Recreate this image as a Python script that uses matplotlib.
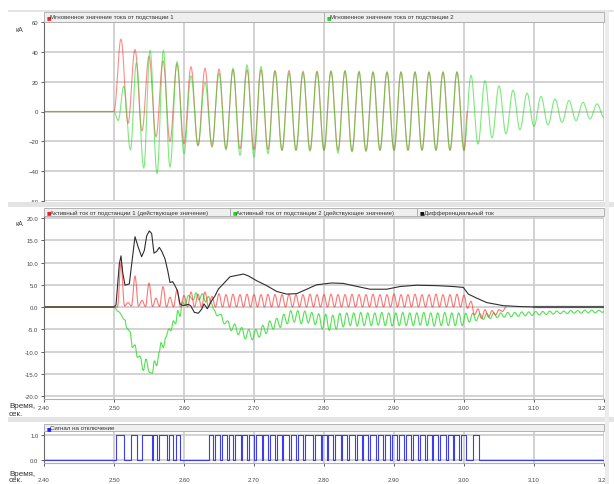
import numpy as np
import matplotlib.pyplot as plt
from matplotlib.patches import Rectangle

plt.rcParams['font.family'] = ['Liberation Sans', 'DejaVu Sans']

# --- мгновенные токи, экстремумы полуволн (кА) ---
# подстанция 1: максимумы 2.51..2.99, минимумы 2.52..3.00
i1_peaks = [48.5, 41.5, 37.0, 34.0, 32.0, 30.0, 29.0, 28.5, 28.0, 28.0, 28.0, 27.5, 27.5,
            27.0, 27.0, 27.0, 27.0, 26.5, 26.5, 26.5, 26.5, 26.5, 26.5, 26.5, 26.5]
i1_troughs = [-8.0, -13.0, -17.0, -20.0, -21.7, -23.0, -24.0, -25.0, -25.0, -25.5, -25.5, -26.0, -26.0,
              -26.0, -26.0, -26.0, -26.5, -26.5, -26.0, -26.0, -26.0, -26.0, -26.0, -26.0, -26.0]

# подстанция 2: первые полуволны сдвинуты по фазе
i2_t_start = [2.40, 2.50, 2.506, 2.514, 2.5235, 2.532, 2.5425, 2.5515, 2.5615, 2.5705]
i2_v_start = [0.0, 0.0, -6.0, 17.0, -25.7, 32.8, -37.9, 41.0, -41.7, 41.0]
# далее экстремумы через каждые 0.01 с, начиная с 2.58
i2_v_rest = [-37.2, 33.4, -28.3, 23.9, -22.8, 19.5, -22.5, 25.7, -25.7, 29.0, -29.4, 31.2,
             -30.5, 30.0, -28.3, 26.8, -26.1, 25.7, -26.0, 26.0, -26.5, 26.5, -26.1, 27.2,
             -27.9, 27.5, -27.0, 27.0, -26.5, 26.5, -26.0, 26.5, -26.0, 26.5, -26.0, 26.5,
             -26.0, 26.5, -26.0, 26.5, -26.0, 26.5, -26.0, 24.3, -21.9, 20.6, -17.7, 17.2,
             -15.0, 14.3, -12.3, 12.3, -10.0, 10.1, -9.0, 8.4, -7.3, 7.3, -6.1, 6.2,
             -5.0, 5.1, -4.0]

# --- активные токи (действующее значение), кА ---
# подстанция 1: максимумы 2.51..3.00 через 0.01 с, минимумы между ними
a1_peaks = [10.0, 1.0, 7.0, 1.5, 5.4, 2.0, 4.6, 2.2, 3.9, 2.6, 3.4, 2.9, 3.4, 2.4, 3.0,
            2.8, 2.9, 2.8, 2.9, 2.8, 2.8, 2.9, 2.8, 2.8, 2.9, 2.8, 2.8, 2.9, 2.8, 2.8,
            2.9, 2.8, 2.8, 2.9, 2.8, 2.8, 2.9, 2.8, 2.8, 2.9, 2.8, 2.8, 2.9, 2.8, 2.8,
            2.9, 2.8, 2.8, 2.9, 2.7]
a1_valleys = [0.0, 0.2, 0.2, 0.2, 0.1, 0.1, 0.1, 0.0, 0.0, 0.0, 0.0, 0.0, 0.0, 0.0, 0.0,
              0.0, 0.0, 0.0, 0.0, 0.0, 0.0, 0.0, 0.0, 0.0, 0.0, 0.0, 0.0, 0.0, 0.0, 0.0,
              0.0, 0.0, 0.0, 0.0, 0.0, 0.0, 0.0, 0.0, 0.0, 0.0, 0.0, 0.0, 0.0, 0.0, 0.0,
              0.0, 0.0, 0.0, 0.0, 0.0]
a1_t_tail = [3.005, 3.01, 3.015, 3.02, 3.025, 3.03, 3.035, 3.04, 3.045, 3.05, 3.055, 3.06]
a1_v_tail = [-0.3, 1.3, -1.8, -0.4, -2.6, -0.6, -2.3, -0.8, -1.8, -0.6, -1.0, 0.0]

# подстанция 2
a2_t_start = [2.40, 2.50, 2.506, 2.5157, 2.5181, 2.5229, 2.5262, 2.530, 2.5333, 2.5371, 2.5419,
              2.5457, 2.5505, 2.5548, 2.5576, 2.561, 2.5648, 2.5671, 2.5705, 2.5738, 2.5786,
              2.5814, 2.5848, 2.5881, 2.591, 2.5943, 2.5976, 2.6014, 2.6062, 2.6133, 2.6171,
              2.6214, 2.6262, 2.631, 2.6348, 2.639]
a2_v_start = [0.0, 0.0, -1.0, -2.9, -4.7, -5.5, -9.1, -8.5, -11.3, -11.0, -14.3,
              -11.7, -14.7, -14.9, -12.1, -13.2, -10.0, -8.0, -9.1, -6.8, -4.9,
              -5.3, -3.1, -3.8, -0.8, -2.1, 1.1, 0.4, 2.6, 1.6, 3.2,
              1.6, 3.0, 1.1, 2.4, 0.9]
# экстремумы пульсаций через 0.005 с, начиная с 2.6425
a2_v_rest = [-0.5, -2.0, -1.6, -3.8, -3.1, -5.3, -3.8, -6.2, -4.6, -7.2, -5.0, -7.4,
             -5.0, -6.8, -4.1, -6.0, -3.1, -5.0, -2.5, -4.6, -1.6, -3.8, -0.8, -3.4,
             -0.8, -3.8, -0.9, -3.6, -1.2, -4.0, -1.5, -5.0, -1.6, -5.3, -1.8, -5.0,
             -1.4, -4.5,
             -1.3, -4.2, -1.3, -4.3, -1.2, -4.2, -1.3, -4.2, -1.3, -4.1, -1.2, -4.2,
             -1.3, -4.3, -1.3, -4.2, -1.2, -4.2, -1.3, -4.2, -1.3, -4.1, -1.2, -4.2,
             -1.3, -4.3, -1.3, -4.2, -1.2, -4.2, -1.3, -4.2, -1.3, -4.2,
             -1.4, -3.4, -1.4, -3.1, -1.5, -2.8, -1.4, -2.6, -1.3, -2.4, -1.3, -2.3,
             -1.2, -2.2, -1.2, -2.1, -1.1, -2.0, -1.1, -1.9, -1.0, -1.8, -1.0, -1.7,
             -0.9, -1.6, -0.9, -1.5, -0.9, -1.5, -0.8, -1.4, -0.8, -1.4, -0.7, -1.3,
             -0.7, -1.3, -0.7, -1.2]

# дифференциальный ток
dif_t = [2.40, 2.50, 2.5029, 2.5076, 2.51, 2.5124, 2.5157, 2.5219, 2.5253, 2.53, 2.5347,
         2.5395, 2.5433, 2.5467, 2.5505, 2.5538, 2.5571, 2.561, 2.5647, 2.568, 2.5729,
         2.5767, 2.58, 2.5838, 2.5871, 2.5905, 2.5943, 2.599, 2.6062, 2.6095, 2.6148,
         2.6205, 2.6252, 2.6286, 2.6333, 2.6395, 2.6443, 2.649, 2.6562, 2.6657, 2.6752,
         2.6848, 2.6919, 2.7038, 2.7181, 2.7324, 2.7467, 2.761, 2.7753, 2.7896, 2.811,
         2.8276, 2.8419, 2.8657, 2.8896, 2.9086, 2.9324, 2.961, 2.9848, 2.999, 3.0062,
         3.0181, 3.0324, 3.0562, 3.08, 3.1038, 3.20]
dif_v = [0.0, 0.0, 0.5, 9.7, 11.5, 7.8, 4.9, 5.2, 9.7, 15.8, 13.4,
         11.3, 12.7, 16.0, 17.1, 16.5, 12.1, 12.5, 13.4, 12.6, 10.8,
         8.2, 5.5, 5.7, 4.8, 3.7, 0.7, 0.3, 0.6, 0.3, -1.2,
         -1.4, -0.5, 0.7, -0.4, 1.4, 2.5, 4.0, 5.2, 6.8, 7.1,
         7.4, 7.0, 5.9, 4.8, 3.5, 2.9, 3.0, 4.0, 5.0, 5.4,
         5.3, 4.8, 4.0, 4.0, 4.6, 4.9, 4.8, 4.6, 4.4, 2.9,
         2.0, 1.0, 0.3, 0.1, 0.0, 0.0]

# сигнал на отключение: интервалы со значением 1
trip_on = [2.5029, 2.5238, 2.5395, 2.5552, 2.5648, 2.579, 2.5886,
           2.6362, 2.6444, 2.6539, 2.6644, 2.6729, 2.6835, 2.6929, 2.7025, 2.7135, 2.7229,
           2.7325, 2.7421, 2.7529, 2.7625, 2.7729, 2.7872, 2.7978, 2.8064, 2.8158, 2.8264,
           2.8358, 2.8468, 2.8564, 2.8658, 2.8768, 2.8872, 2.8968, 2.9072, 2.9168, 2.9268,
           2.9372, 2.9468, 2.9564, 2.9658, 2.9768, 2.9864, 2.9958, 3.0124]
trip_off = [2.5143, 2.5333, 2.5538, 2.561, 2.5752, 2.5848, 2.5943,
            2.6419, 2.6514, 2.6619, 2.6704, 2.681, 2.6904, 2.70, 2.711, 2.7204, 2.73,
            2.7396, 2.7504, 2.76, 2.7704, 2.7847, 2.7953, 2.8039, 2.8133, 2.8239, 2.8333,
            2.8443, 2.8539, 2.8633, 2.8743, 2.8847, 2.8943, 2.9047, 2.9143, 2.9243, 2.9347,
            2.9443, 2.9539, 2.9633, 2.9743, 2.9839, 2.9933, 3.0024, 3.0214]

x_ticks = [2.40, 2.50, 2.60, 2.70, 2.80, 2.90, 3.00, 3.10, 3.20]


def wave(tk, vk, n=10):
    # плавная кривая через экстремумы (полуволна косинуса между соседними точками)
    tk = np.asarray(tk, float)
    vk = np.asarray(vk, float)
    s = np.linspace(0, 1, n, endpoint=False)
    w = (1 - np.cos(np.pi * s)) / 2
    tt = (tk[:-1, None] + np.diff(tk)[:, None] * s).ravel()
    vv = (vk[:-1, None] + np.diff(vk)[:, None] * w).ravel()
    return np.r_[tt, tk[-1]], np.r_[vv, vk[-1]]


def alternate(first, second):
    out = []
    for a, b in zip(first, second):
        out += [a, b]
    return out


W, H = 614, 485
fig = plt.figure(figsize=(W / 100, H / 100), dpi=100)
fig.patch.set_facecolor('white')


def fx(px):
    return px / W


def fy(py):
    return 1 - py / H


def panel(top, bottom):
    ax = fig.add_axes([fx(44), fy(bottom), (604 - 44) / W, (bottom - top) / H])
    ax.set_xlim(2.40, 3.20)
    ax.set_xticks(x_ticks)
    ax.set_xticklabels([f'{v:.2f}' for v in x_ticks])
    ax.grid(True, color='#cfcfcf', lw=1.3)
    ax.set_axisbelow(True)
    for side in ('top', 'right'):
        ax.spines[side].set_visible(False)
    ax.spines['left'].set_color('#6a6a6a')
    ax.spines['left'].set_linewidth(0.8)
    ax.spines['bottom'].set_color('#b0b0b0')
    ax.tick_params(labelsize=4.3, colors='#444444', length=2.5, width=0.6, pad=1.5)
    return ax


def legend_bar(y0, y1, items):
    for xs, xe, color, text in items:
        fig.add_artist(Rectangle((fx(xs), fy(y1)), (xe - xs) / W, (y1 - y0) / H,
                                 transform=fig.transFigure, fc='#efefef', ec='#a8a8a8', lw=0.6))
        ym = fy((y0 + y1) / 2)
        fig.text(fx(xs + 2.5), ym, '■', color=color, fontsize=3.5, va='center', family='DejaVu Sans')
        fig.text(fx(xs + 6.5), ym, text, color='#333333', fontsize=4.4, va='center')


# светло-серые полосы между панелями
for y0, y1 in [(11, 12.5), (203, 208), (418, 423)]:
    fig.add_artist(Rectangle((fx(8), fy(y1)), (W - 8) / W, (y1 - y0) / H,
                             transform=fig.transFigure, fc='#e4e4e4', ec='none'))
fig.add_artist(Rectangle((fx(605), fy(485)), 4 / W, 473 / H,
                         transform=fig.transFigure, fc='#ececec', ec='none'))

red, green = '#ff2a2a', '#25dc25'

# панель 1: мгновенные токи
ax1 = panel(22.7, 202.3)
ax1.set_ylim(-60, 60)
ax1.set_yticks([60, 40, 20, 0, -20, -40, -60])
ax1.tick_params(axis='x', labelbottom=False, length=0)
ax1.spines['bottom'].set_visible(False)

t1 = [2.40, 2.50] + list(np.round(2.51 + 0.01 * np.arange(2 * len(i1_peaks)), 3)) + [3.005]
v1 = [0.0, 0.0] + alternate(i1_peaks, i1_troughs) + [0.0]
t2 = i2_t_start + list(np.round(2.58 + 0.01 * np.arange(len(i2_v_rest)), 3))
v2 = i2_v_start + i2_v_rest
ax1.plot(*wave(t1, v1), color=red, lw=0.8, alpha=0.55)
ax1.plot(*wave(t2, v2), color=green, lw=0.8, alpha=0.6)

# панель 2: активные и дифференциальный токи
ax2 = panel(217, 400)
ax2.set_ylim(-20.67, 20.45)
ax2.set_yticks([20, 15, 10, 5, 0, -5, -10, -15, -20])
ax2.set_yticklabels([f'{v:.1f}' for v in [20, 15, 10, 5, 0, -5, -10, -15, -20]])

ta1 = [2.40, 2.50] + list(np.round(2.505 + 0.005 * np.arange(2 * len(a1_peaks)), 4)) + a1_t_tail
va1 = [0.0, 0.0] + alternate(a1_valleys, a1_peaks) + a1_v_tail
ta2 = a2_t_start + list(np.round(2.6425 + 0.005 * np.arange(len(a2_v_rest)), 4)) + [3.20]
va2 = a2_v_start + a2_v_rest + [-1.0]
ax2.plot(*wave(ta2, va2, 6), color=green, lw=0.8, alpha=0.8)
ax2.plot(*wave(ta1, va1, 6), color=red, lw=0.8, alpha=0.65)
ax2.plot(dif_t, dif_v, color='#2e2e2e', lw=0.8)
ax2.plot([3.10, 3.20], [0, 0], color='#555555', lw=1.6)

# панель 3: сигнал на отключение
ax3 = panel(433, 463.5)
ax3.set_ylim(-0.113, 1.12)
ax3.set_yticks([1.0, 0.0])
ax3.set_yticklabels(['1.0', '0.0'])
ax3.tick_params(axis='x', pad=8)
st, sv = [2.40], [0]
for a, b in zip(trip_on, trip_off):
    st += [a, a, b, b]
    sv += [0, 1, 1, 0]
st.append(3.20)
sv.append(0)
ax3.plot(st, sv, color='#3c3cf0', lw=0.8)

legend_bar(13, 22.5, [(44, 324, '#ff1a1a', 'Мгновенное значение тока от подстанции 1'),
                      (324, 604, '#1ad81a', 'Мгновенное значение тока от подстанции 2')])
legend_bar(209, 217, [(44, 230, '#ff1a1a', 'Активный ток от подстанции 1 (действующее значение)'),
                      (230, 417, '#1ad81a', 'Активный ток от подстанции 2 (действующее значение)'),
                      (417, 604, '#111111', 'Дифференциальный ток')])
legend_bar(424.5, 432, [(44, 604, '#2020ff', 'Сигнал на отключение')])

for y in (31, 225):
    fig.text(fx(19), fy(y), 'кА', fontsize=5, color='#444444', ha='center', va='center')
for y, dy in ((407, 8), (475, 6)):
    fig.text(fx(9), fy(y), 'Время,', fontsize=5.8, color='#333333', va='center')
    fig.text(fx(9), fy(y + dy), 'сек.', fontsize=5.8, color='#333333', va='center')

fig.savefig('out.png', dpi=100)
